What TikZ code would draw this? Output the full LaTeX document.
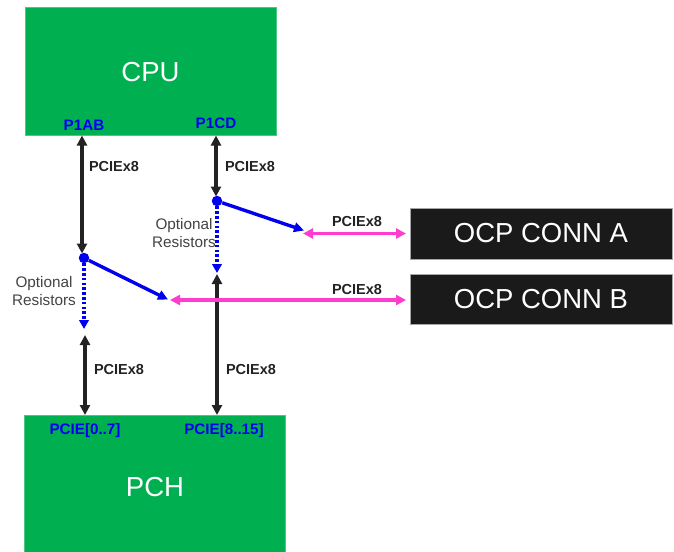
\documentclass[tikz,border=0pt]{standalone}
\usepackage{fontspec}
\setmainfont{Liberation Sans}
\usetikzlibrary{arrows.meta}
\definecolor{cgreen}{HTML}{00B050}
\definecolor{cblk}{HTML}{222222}
\definecolor{cmag}{HTML}{FF3BD0}
\definecolor{cblue}{HTML}{0000F0}
\definecolor{cbox}{HTML}{1A1A1A}
\tikzset{
  greenbox/.style={fill=cgreen, draw=cgreen!70!white, line width=0.6pt, inner sep=0pt},
  bigtxt/.style={text=white, font=\fontsize{27.5}{30}\selectfont, inner sep=0pt},
  ocpbox/.style={fill=cbox, draw=gray!70, line width=0.6pt, inner sep=0pt, minimum width=262pt, font=\fontsize{27.5}{30}\selectfont, text=white},
  portlbl/.style={font=\bfseries\fontsize{15.2}{17}\selectfont, text=cblue, inner sep=0pt},
  buslbl/.style={font=\bfseries\fontsize{14.5}{16}\selectfont, text=cblk, inner sep=0pt},
  optlbl/.style={font=\fontsize{15.3}{18}\selectfont, text=cblk!85, inner sep=0pt, align=center},
  blkarr/.style={draw=cblk, line width=3.4pt, {Triangle[length=10pt,width=10pt]}-{Triangle[length=10pt,width=10pt]}},
  magarr/.style={draw=cmag, line width=3.1pt, {Triangle[length=10pt,width=10pt]}-{Triangle[length=10pt,width=10pt]}},
  bluearr/.style={draw=cblue, line width=3.4pt, -{Triangle[length=10pt,width=9.5pt]}},
  bluedot/.style={draw=cblue, line width=3.4pt, dash pattern=on 2.6pt off 2.2pt, -{Triangle[length=9pt,width=9.5pt]}},
  jdot/.style={circle, fill=cblue, inner sep=0pt, minimum size=10.5pt}
}
\begin{document}
\begin{tikzpicture}[x=1pt,y=-1pt]
\useasboundingbox (0,0) rectangle (674,551);
% boxes
\node[greenbox, minimum width=251pt, minimum height=128pt] (cpu) at (150.5,71) {};
\node[bigtxt] (cputxt) at (150.5,72) {CPU};
\node[greenbox, minimum width=261pt, minimum height=137pt] (pch) at (154.5,483.5) {};
\node[bigtxt] (pchtxt) at (155,487) {PCH};
\node[ocpbox, minimum height=51pt] (ocpa) at (541,233.5) {OCP CONN A};
\node[ocpbox, minimum height=50pt] (ocpb) at (541,299) {OCP CONN B};
% port labels
\node[portlbl] (p1ab) at (84,125) {P1AB};
\node[portlbl] (p1cd) at (216,123) {P1CD};
\node[portlbl] (pcie07) at (85,431) {PCIE[0..7]};
\node[portlbl] (pcie815) at (224,431) {PCIE[8..15]};
% junction dots
\node[jdot] (da) at (84,258) {};
\node[jdot] (dc) at (217,201) {};
% coordinates
\coordinate (a1) at (82,135.5);
\coordinate (a2) at (82,253.5);
\coordinate (a3) at (84,329);
\coordinate (a4) at (85,335);
\coordinate (a5) at (85,415);
\coordinate (c1) at (216,135.5);
\coordinate (c2) at (216,196.5);
\coordinate (c3) at (217,273);
\coordinate (c4) at (217,274);
\coordinate (c5) at (217,415);
\coordinate (ta) at (304,230.5);
\coordinate (ma1) at (303,233.5);
\coordinate (ma2) at (406,233.5);
\coordinate (tb) at (168,299.5);
\coordinate (mb1) at (170,300);
\coordinate (mb2) at (406,300);
% connectors
\draw[blkarr] (a1) -- (a2);
\draw[blkarr] (c1) -- (c2);
\draw[bluedot] (da) -- (a3);
\draw[bluedot] (dc) -- (c3);
\draw[blkarr] (a4) -- (a5);
\draw[blkarr] (c4) -- (c5);
\draw[bluearr] (dc) -- (ta);
\draw[bluearr] (da) -- (tb);
\draw[magarr] (ma1) -- (ma2);
\draw[magarr] (mb1) -- (mb2);
% bus labels
\node[buslbl] (l1) at (114,167) {PCIEx8};
\node[buslbl] (l2) at (250,167) {PCIEx8};
\node[buslbl] (l3) at (357,222) {PCIEx8};
\node[buslbl] (l4) at (357,290) {PCIEx8};
\node[buslbl] (l5) at (119,370) {PCIEx8};
\node[buslbl] (l6) at (251,370) {PCIEx8};
% optional resistor labels
\node[optlbl] (o1) at (184,233) {Optional\\Resistors};
\node[optlbl] (o2) at (44,291) {Optional\\Resistors};
\end{tikzpicture}
\end{document}
